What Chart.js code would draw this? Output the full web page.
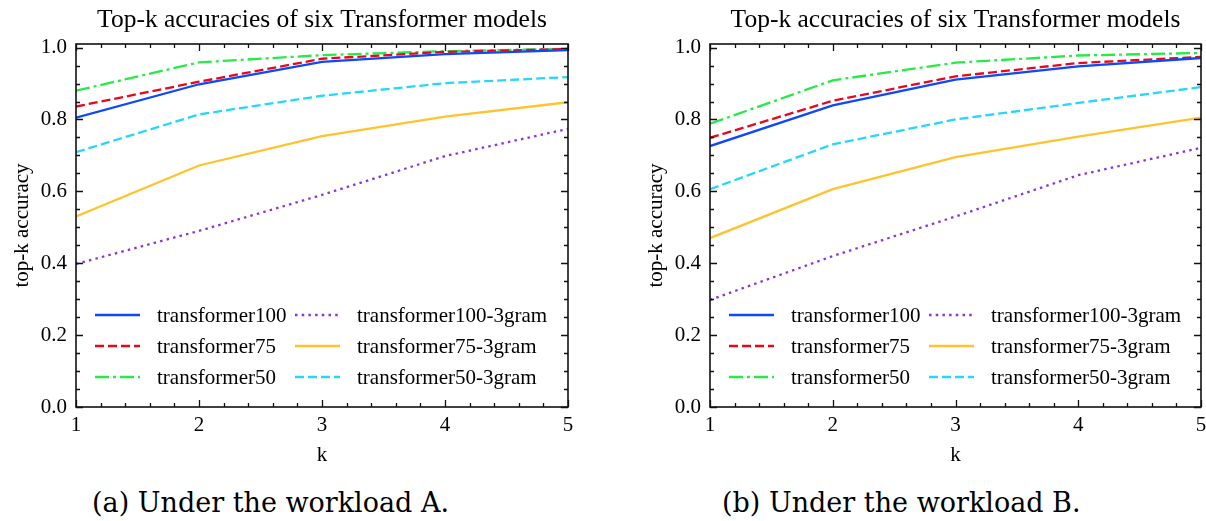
<!DOCTYPE html>
<html>
<head>
<meta charset="utf-8">
<script src="https://cdn.jsdelivr.net/npm/chart.js@4.4.1/dist/chart.umd.min.js"></script>
<style>
    html, body { margin: 0; padding: 0; background: #fff; }
    #wrap { position: relative; width: 1206px; height: 521px; overflow: hidden; }
    .panel { position: absolute; top: 0; width: 603px; height: 480px; }
    .caption {
        position: absolute; top: 489px; white-space: nowrap;
        font-family: 'DejaVu Serif', serif; font-size: 27px; line-height: 1; color: #000;
    }
</style>
</head>
<body>
<div id="wrap">
    <div class="panel" style="left:0"><canvas id="chartA" width="603" height="480"></canvas></div>
    <div class="panel" style="left:603px"><canvas id="chartB" width="603" height="480"></canvas></div>
    <div class="caption" style="left:92px">(a) Under the workload A.</div>
    <div class="caption" style="left:722px">(b) Under the workload B.</div>
</div>

<script>
/* ---- data ---- */
const kValues = [1, 2, 3, 4, 5];

const seriesNames = [
    'transformer100', 'transformer75', 'transformer50',
    'transformer100-3gram', 'transformer75-3gram', 'transformer50-3gram',
];

// workload A
const a_t100     = [0.805, 0.898, 0.960, 0.982, 0.993];
const a_t75      = [0.836, 0.905, 0.969, 0.988, 0.996];
const a_t50      = [0.880, 0.959, 0.979, 0.990, 0.997];
const a_t100_3g  = [0.398, 0.490, 0.590, 0.698, 0.774];
const a_t75_3g   = [0.530, 0.672, 0.754, 0.808, 0.848];
const a_t50_3g   = [0.709, 0.814, 0.866, 0.901, 0.918];

// workload B
const b_t100     = [0.726, 0.839, 0.911, 0.948, 0.971];
const b_t75      = [0.749, 0.852, 0.920, 0.957, 0.974];
const b_t50      = [0.788, 0.909, 0.958, 0.978, 0.985];
const b_t100_3g  = [0.298, 0.420, 0.530, 0.645, 0.721];
const b_t75_3g   = [0.470, 0.606, 0.695, 0.752, 0.805];
const b_t50_3g   = [0.606, 0.731, 0.800, 0.846, 0.890];

const yTickLabels = ['0.0', '0.2', '0.4', '0.6', '0.8', '1.0'];

/* ---- styling (high-vis palette) ---- */
const COLORS = ['#0d49fb', '#e6091c', '#26eb47', '#8936df', '#fec32d', '#25d7fd'];
const DASHES = [[], [9, 4], [14, 4, 3, 4], [2.5, 4.2], [], [9, 4]];
const SERIF  = "'Liberation Serif', 'Times New Roman', serif";
const INK    = '#111';

/* frame, inward ticks on all four sides, and a two-column legend */
const frameAndLegend = {
    id: 'frameAndLegend',
    afterDatasetsDraw(chart) {
        const { ctx, chartArea: ca, scales: { x, y } } = chart;
        ctx.save();
        ctx.strokeStyle = INK;
        ctx.lineWidth = 1.3;
        ctx.setLineDash([]);

        ctx.beginPath();
        // x ticks, every 0.2, major on integers
        for (let i = 0; i <= 20; i++) {
            const v = 1 + i * 0.2;
            const px = Math.round(x.getPixelForValue(v)) + 0.5;
            const len = (i % 5 === 0) ? 7 : 4;
            ctx.moveTo(px, ca.bottom); ctx.lineTo(px, ca.bottom - len);
            ctx.moveTo(px, ca.top);    ctx.lineTo(px, ca.top + len);
        }
        // y ticks, every 0.05, major every 0.2
        for (let i = 0; i <= 20; i++) {
            const v = i * 0.05;
            const py = Math.round(y.getPixelForValue(v)) + 0.5;
            const len = (i % 4 === 0) ? 7 : 4;
            ctx.moveTo(ca.left, py);  ctx.lineTo(ca.left + len, py);
            ctx.moveTo(ca.right, py); ctx.lineTo(ca.right - len, py);
        }
        ctx.stroke();

        ctx.lineWidth = 1.6;
        ctx.strokeRect(ca.left, ca.top, ca.right - ca.left, ca.bottom - ca.top);

        // legend: column-major, 3 rows x 2 columns
        const rows = [271, 302, 333];
        const cols = [19, 219];
        ctx.font = `21px ${SERIF}`;
        ctx.fillStyle = '#000';
        ctx.textBaseline = 'middle';
        ctx.textAlign = 'left';
        chart.data.datasets.forEach((ds, i) => {
            const cx = ca.left + cols[Math.floor(i / 3)];
            const cy = ca.top + rows[i % 3];
            ctx.strokeStyle = ds.borderColor;
            ctx.lineWidth = ds.borderWidth;
            ctx.lineCap = 'butt';
            ctx.setLineDash(ds.borderDash);
            ctx.beginPath();
            ctx.moveTo(cx, cy); ctx.lineTo(cx + 45, cy);
            ctx.stroke();
            ctx.fillText(ds.label, cx + 62, cy + 1);
        });
        ctx.restore();
    },
};

function makeDatasets(valueSets) {
    return valueSets.map((vals, i) => ({
        label: seriesNames[i],
        data: kValues.map((k, j) => ({ x: k, y: vals[j] })),
        borderColor: COLORS[i],
        backgroundColor: COLORS[i],
        borderWidth: 2.3,
        borderDash: DASHES[i],
        borderCapStyle: 'butt',
        pointRadius: 0,
        tension: 0,
    }));
}

function makeChart(canvasId, valueSets, padLeft, padRight) {
    return new Chart(document.getElementById(canvasId), {
        type: 'line',
        data: { datasets: makeDatasets(valueSets) },
        options: {
            responsive: false,
            animation: false,
            events: [],
            layout: { padding: { left: padLeft, right: padRight, top: 0, bottom: 0 } },
            plugins: {
                legend: { display: false },
                tooltip: { enabled: false },
                title: {
                    display: true,
                    fullSize: false,
                    text: 'Top-k accuracies of six Transformer models',
                    color: '#000',
                    font: { family: SERIF, size: 25.5, weight: 'normal', lineHeight: 1.2 },
                    padding: { top: 5, bottom: 8.4 },
                },
            },
            scales: {
                x: {
                    type: 'linear',
                    min: 1, max: 5,
                    grid: { display: false, drawTicks: false },
                    border: { display: false },
                    ticks: {
                        stepSize: 1,
                        padding: 6,
                        color: '#000',
                        font: { family: SERIF, size: 21 },
                        callback: v => String(v),
                    },
                    title: {
                        display: true, text: 'k', color: '#000',
                        font: { family: SERIF, size: 21 },
                        padding: { top: 0, bottom: 12 },
                    },
                    afterFit: s => { s.height = 73; s.paddingLeft = 0; s.paddingRight = 0; },
                },
                y: {
                    min: 0, max: 1.01,
                    grid: { display: false, drawTicks: false },
                    border: { display: false },
                    ticks: {
                        stepSize: 0.2,
                        includeBounds: false,
                        padding: 9,
                        color: '#000',
                        font: { family: SERIF, size: 21 },
                        callback: v => yTickLabels[Math.round(v / 0.2)] ?? '',
                    },
                    title: {
                        display: true, text: 'top-k accuracy', color: '#000',
                        font: { family: SERIF, size: 21 },
                        padding: { top: 10, bottom: 0 },
                    },
                    afterFit: s => { s.width = 76; s.paddingTop = 0; s.paddingBottom = 0; },
                },
            },
        },
        plugins: [frameAndLegend],
    });
}

makeChart('chartA', [a_t100, a_t75, a_t50, a_t100_3g, a_t75_3g, a_t50_3g], 0, 35);
makeChart('chartB', [b_t100, b_t75, b_t50, b_t100_3g, b_t75_3g, b_t50_3g], 31, 5);
</script>
</body>
</html>
